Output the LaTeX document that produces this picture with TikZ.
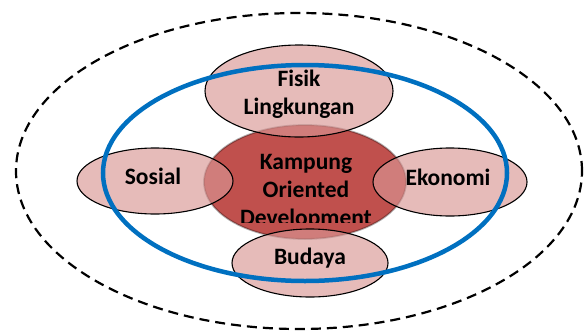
\documentclass[tikz,border=0pt]{standalone}
\usepackage{fontspec}
\setmainfont{Carlito}
\usetikzlibrary{shapes.geometric}
\definecolor{kred}{HTML}{C0504D}
\definecolor{kpink}{HTML}{D99694}
\definecolor{kblue}{HTML}{0070C0}
\begin{document}
\begin{tikzpicture}[x=1pt,y=-1pt,
  blob/.style={ellipse, draw=black, line width=1.1pt, fill=kpink, fill opacity=0.65, draw opacity=1, inner sep=0pt},
  lbl/.style={font=\fontsize{23.5}{28}\selectfont\bfseries, align=center, inner sep=0pt, text=black}]
\useasboundingbox (0,0) rectangle (585,332);
\node[ellipse, draw=black, line width=2.2pt, dash pattern=on 10pt off 6pt, minimum width=566pt, minimum height=316pt, inner sep=0pt] (outer) at (299,171) {};
\node[ellipse, fill=kred, draw=black, draw opacity=0.3, line width=1.8pt, minimum width=202pt, minimum height=114pt, inner sep=0pt] (core) at (305,182) {};
\node[blob, minimum width=188pt, minimum height=92pt] (fisik) at (299,91) {};
\node[blob, minimum width=156pt, minimum height=66pt] (sosial) at (155,181) {};
\node[blob, minimum width=154pt, minimum height=68pt] (ekonomi) at (450,182) {};
\node[blob, minimum width=156pt, minimum height=68pt] (budaya) at (310,263) {};
\node[ellipse, draw=kblue, line width=4.5pt, minimum width=404pt, minimum height=216pt, inner sep=0pt] (ring) at (305,173) {};
\node[lbl] (tfisik) at (299,94) {Fisik\\Lingkungan};
\node[lbl] (tsosial) at (153,176) {Sosial};
\node[lbl] (tekonomi) at (448,177) {Ekonomi};
\node[lbl] (tbudaya) at (310,258.5) {Budaya};
\begin{scope}
\clip (200,120) rectangle (420,222);
\node[lbl] (tcore) at (306,192) {Kampung\\Oriented\\Development};
\end{scope}
\end{tikzpicture}
\end{document}
